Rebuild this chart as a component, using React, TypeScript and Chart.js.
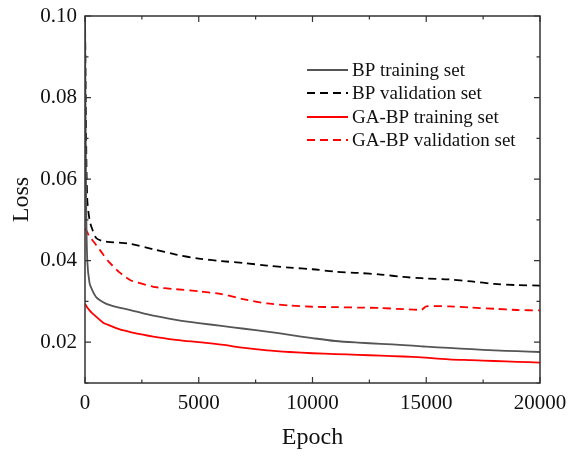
import React, { useEffect, useRef } from "react";
import { Chart, registerables } from "chart.js";

Chart.register(...registerables);

const epochs = [0, 50, 100, 200, 300, 500, 800, 1000, 1500, 2000, 3000, 4000, 5000, 6000, 7000, 8000, 9000, 10000, 11000, 12000, 13000, 14000, 14800, 15000, 16000, 17000, 18000, 19000, 20000];

const bpTrain = [0.1, 0.055, 0.04, 0.0345, 0.033, 0.031, 0.0298, 0.0293, 0.0285, 0.0279, 0.0265, 0.0255, 0.0247, 0.024, 0.0233, 0.0226, 0.0218, 0.021, 0.0203, 0.0199, 0.0196, 0.0193, 0.019, 0.0189, 0.0186, 0.0183, 0.018, 0.0178, 0.0176];
const bpVal = [0.1, 0.07, 0.055, 0.05, 0.048, 0.0455, 0.0448, 0.0446, 0.0444, 0.0441, 0.0428, 0.0415, 0.0405, 0.0399, 0.0394, 0.0388, 0.0383, 0.0379, 0.0373, 0.037, 0.0366, 0.036, 0.0357, 0.0356, 0.0354, 0.0349, 0.0343, 0.034, 0.0339];
const gaTrain = [0.0293, 0.029, 0.0285, 0.0278, 0.0272, 0.0262, 0.0248, 0.0243, 0.0232, 0.0225, 0.0214, 0.0206, 0.02, 0.0194, 0.0186, 0.018, 0.0176, 0.0173, 0.0171, 0.0169, 0.0167, 0.0165, 0.0163, 0.0162, 0.0158, 0.0156, 0.0154, 0.0152, 0.015];
const gaVal = [0.048, 0.0475, 0.047, 0.0458, 0.0452, 0.0438, 0.0415, 0.04, 0.0372, 0.0352, 0.0336, 0.033, 0.0325, 0.0318, 0.0305, 0.0295, 0.029, 0.0287, 0.0286, 0.0285, 0.0284, 0.0281, 0.028, 0.0288, 0.0288, 0.0285, 0.0282, 0.0279, 0.0278];

const seriesNames = ["BP training set", "BP validation set", "GA-BP training set", "GA-BP validation set"];
const yTickValues = [0.02, 0.04, 0.06, 0.08, 0.1];
const xTickValues = [0, 5000, 10000, 15000, 20000];

const FONT = "'Liberation Serif', 'Times New Roman', serif";

const framePlugin = {
  id: "frameTicks",
  afterDraw(chart: any) {
    const { ctx, chartArea } = chart;
    const { left, right, top, bottom } = chartArea;
    const xs = chart.scales.x;
    const ys = chart.scales.y;
    ctx.save();
    ctx.strokeStyle = "#333";
    ctx.lineWidth = 1.5;
    ctx.strokeRect(left, top, right - left, bottom - top);
    ctx.lineWidth = 1.2;
    ctx.beginPath();
    for (let v = 0; v <= 20000; v += 2500) {
      const px = xs.getPixelForValue(v);
      const len = v % 5000 === 0 ? 6 : 3.5;
      ctx.moveTo(px, bottom);
      ctx.lineTo(px, bottom - len);
      ctx.moveTo(px, top);
      ctx.lineTo(px, top + len);
    }
    for (let i = 1; i <= 10; i++) {
      const v = i / 100;
      const py = ys.getPixelForValue(v);
      const len = i % 2 === 0 ? 6 : 3.5;
      ctx.moveTo(left, py);
      ctx.lineTo(left + len, py);
      ctx.moveTo(right, py);
      ctx.lineTo(right - len, py);
    }
    ctx.stroke();

    // legend
    const styles = [
      { color: "#555", dash: [] },
      { color: "#000", dash: [8, 5] },
      { color: "#ff0000", dash: [] },
      { color: "#ff0000", dash: [8, 5] },
    ];
    const rows = [70, 93, 117, 140];
    ctx.font = `19px ${FONT}`;
    ctx.textBaseline = "middle";
    ctx.textAlign = "left";
    styles.forEach((s, i) => {
      ctx.beginPath();
      ctx.setLineDash(s.dash);
      ctx.strokeStyle = s.color;
      ctx.lineWidth = 1.8;
      ctx.moveTo(307, rows[i]);
      ctx.lineTo(348, rows[i]);
      ctx.stroke();
      ctx.setLineDash([]);
      ctx.fillStyle = "#111";
      ctx.fillText(seriesNames[i], 352, rows[i] + 1);
    });
    ctx.restore();
  },
};

export default function App() {
  const ref = useRef<HTMLCanvasElement | null>(null);
  useEffect(() => {
    if (!ref.current) return;
    const mk = (arr: number[]) => epochs.map((e, i) => ({ x: e, y: arr[i] }));
    const chart = new Chart(ref.current, {
      type: "line",
      data: {
        datasets: [
          { label: seriesNames[0], data: mk(bpTrain), borderColor: "#555", borderWidth: 1.8, pointRadius: 0, tension: 0.3, fill: false },
          { label: seriesNames[1], data: mk(bpVal), borderColor: "#000", borderWidth: 1.8, borderDash: [8, 5], pointRadius: 0, tension: 0.3, fill: false },
          { label: seriesNames[2], data: mk(gaTrain), borderColor: "#ff0000", borderWidth: 1.8, pointRadius: 0, tension: 0.3, fill: false },
          { label: seriesNames[3], data: mk(gaVal), borderColor: "#ff0000", borderWidth: 1.8, borderDash: [8, 5], pointRadius: 0, tension: 0.2, fill: false },
        ],
      },
      options: {
        animation: false,
        responsive: false,
        devicePixelRatio: 1,
        layout: { padding: { left: 0, right: 28, top: 16, bottom: 0 } },
        plugins: { legend: { display: false }, tooltip: { enabled: false } },
        scales: {
          x: {
            type: "linear",
            min: 0,
            max: 20000,
            grid: { display: false, drawTicks: false },
            border: { display: false },
            afterBuildTicks: (s: any) => { s.ticks = xTickValues.map((v) => ({ value: v })); },
            ticks: { color: "#111", font: { family: FONT, size: 21 }, padding: 8, maxRotation: 0, callback: (v: any) => String(v) },
            title: { display: true, text: "Epoch", color: "#111", font: { family: FONT, size: 24 }, padding: { top: 0, bottom: 5 } },
            afterFit: (s: any) => { s.height = 74; s.paddingLeft = 0; s.paddingRight = 0; },
          },
          y: {
            type: "linear",
            min: 0.01,
            max: 0.1,
            grid: { display: false, drawTicks: false },
            border: { display: false },
            afterBuildTicks: (s: any) => { s.ticks = yTickValues.map((v) => ({ value: v })); },
            ticks: { color: "#111", font: { family: FONT, size: 21 }, padding: 8, callback: (v: any) => Number(v).toFixed(2) },
            title: { display: true, text: "Loss", color: "#111", font: { family: FONT, size: 24 }, padding: { top: 7, bottom: 0 } },
            afterFit: (s: any) => { s.width = 85; s.paddingTop = 0; s.paddingBottom = 0; },
          },
        },
      },
      plugins: [framePlugin],
    });
    return () => chart.destroy();
  }, []);
  return (
    <div style={{ position: "absolute", left: 0, top: 0, width: 568, height: 457, background: "#fff" }}>
      <canvas ref={ref} width={568} height={457} style={{ width: 568, height: 457, display: "block" }} />
    </div>
  );
}
